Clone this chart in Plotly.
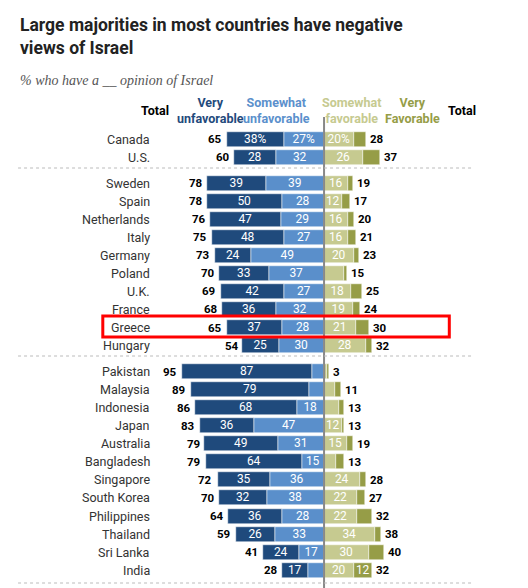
import plotly.graph_objects as go

countries = ["Canada", "U.S.",
             "Sweden", "Spain", "Netherlands", "Italy", "Germany", "Poland", "U.K.", "France", "Greece", "Hungary",
             "Pakistan", "Malaysia", "Indonesia", "Japan", "Australia", "Bangladesh", "Singapore", "South Korea",
             "Philippines", "Thailand", "Sri Lanka", "India"]
groups = [0, 0] + [1] * 10 + [2] * 12
very_unfav = [38, 28, 39, 50, 47, 48, 24, 33, 42, 36, 37, 25, 87, 79, 68, 36, 49, 64, 35, 32, 36, 26, 24, 17]
some_unfav = [27, 32, 39, 28, 29, 27, 49, 37, 27, 32, 28, 30, 8, 10, 18, 47, 31, 15, 36, 38, 28, 33, 17, 11]
total_unfav = [65, 60, 78, 78, 76, 75, 73, 70, 69, 68, 65, 54, 95, 89, 86, 83, 79, 79, 72, 70, 64, 59, 41, 28]
some_fav = [20, 26, 16, 12, 16, 16, 20, 13, 18, 19, 21, 28, 2, 7, 10, 12, 15, 8, 24, 22, 22, 34, 30, 20]
very_fav = [8, 11, 3, 5, 4, 5, 3, 2, 7, 5, 9, 4, 1, 4, 3, 1, 4, 5, 4, 5, 10, 4, 10, 12]
total_fav = [28, 37, 19, 17, 20, 21, 23, 15, 25, 24, 30, 32, 3, 11, 13, 13, 19, 13, 28, 27, 32, 38, 40, 32]
# which segment values are printed on the chart
show_vu = [True] * 24
show_su = [True] * 12 + [False, False, True, True, True, True, True, True, True, True, True, False]
show_sf = [True] * 7 + [False] + [True] * 4 + [False, False, False, True, True, False, True, True, True, True, True, True]
show_vf = [False] * 23 + [True]

C_VU, C_SU, C_SF, C_VF = "#1f4a7c", "#5a8fcb", "#c6ca90", "#969d47"
FONT = "Liberation Sans Narrow, Roboto, Arial"

ys = [139 + 18.05 * i + 8 * g for i, g in enumerate(groups)]

def labels(vals, show, pct=False):
    out = []
    for i, (v, s) in enumerate(zip(vals, show)):
        if not s:
            out.append("")
        elif pct and i == 0:
            out.append(f"{v}%")
        else:
            out.append(str(v))
    return out

fig = go.Figure()
for vals, show, col, neg in [(some_unfav, show_su, C_SU, True), (very_unfav, show_vu, C_VU, True),
                             (some_fav, show_sf, C_SF, False), (very_fav, show_vf, C_VF, False)]:
    fig.add_trace(go.Bar(
        x=[-v if neg else v for v in vals], y=ys, orientation="h", width=15,
        marker=dict(color=col, line=dict(color="white", width=0.5)),
        text=labels(vals, show, pct=True), textposition="inside", insidetextanchor="middle",
        textangle=0, constraintext="none",
        textfont=dict(color="white", size=12, family=FONT), hoverinfo="skip"))

ann = []
for c, y, tu, tf in zip(countries, ys, total_unfav, total_fav):
    ann.append(dict(x=-115, y=y, text=c, xanchor="right", showarrow=False, font=dict(size=12.5, color="#333", family=FONT)))
    ann.append(dict(x=-tu - 1.5, y=y, text=f"<b>{tu}</b>", xanchor="right", showarrow=False, font=dict(size=11.5, color="black", family=FONT)))
    ann.append(dict(x=tf + 1.5, y=y, text=f"<b>{tf}</b>", xanchor="left", showarrow=False, font=dict(size=11.5, color="black", family=FONT)))

hdr = [(-113, "<b>Total</b>", "black"), (-76, "<b>Very<br>unfavorable</b>", C_VU), (-32, "<b>Somewhat<br>unfavorable</b>", "#5b90cc"),
       (18, "<b>Somewhat<br>favorable</b>", "#c6ca90"), (59, "<b>Very<br>Favorable</b>", C_VF), (92, "<b>Total</b>", "black")]
for x, t, col in hdr:
    ann.append(dict(x=x, y=110, text=t, showarrow=False, font=dict(size=12.5, color=col, family=FONT)))
ann.append(dict(x=-204, y=36, text="<b>Large majorities in most countries have negative<br>views of Israel</b>", xanchor="left", align="left",
                showarrow=False, font=dict(size=17.5, color="#222", family="Roboto")))
ann.append(dict(x=-204, y=80, text="<i>% who have a __ opinion of Israel</i>", xanchor="left", showarrow=False,
                font=dict(size=14, color="#555", family="Liberation Serif")))

shapes = [dict(type="line", x0=0, x1=0, y0=117, y1=596, line=dict(color="#888", width=2), layer="above")]
for y in [168, 356, 583]:
    shapes.append(dict(type="line", x0=-204, x1=100, y0=y, y1=y, line=dict(color="#bbb", width=1, dash="dot")))
shapes.append(dict(type="rect", x0=-147.5, x1=83.5, y0=316, y1=337, line=dict(color="red", width=3)))

fig.update_layout(
    width=528, height=588, margin=dict(l=0, r=0, t=0, b=0), barmode="relative", showlegend=False,
    plot_bgcolor="white", paper_bgcolor="white", bargap=0,
    xaxis=dict(range=[-210.7, 141.3], visible=False, fixedrange=True),
    yaxis=dict(range=[596, 8], visible=False, fixedrange=True),
    annotations=ann, shapes=shapes)
fig.write_html("out.html")
